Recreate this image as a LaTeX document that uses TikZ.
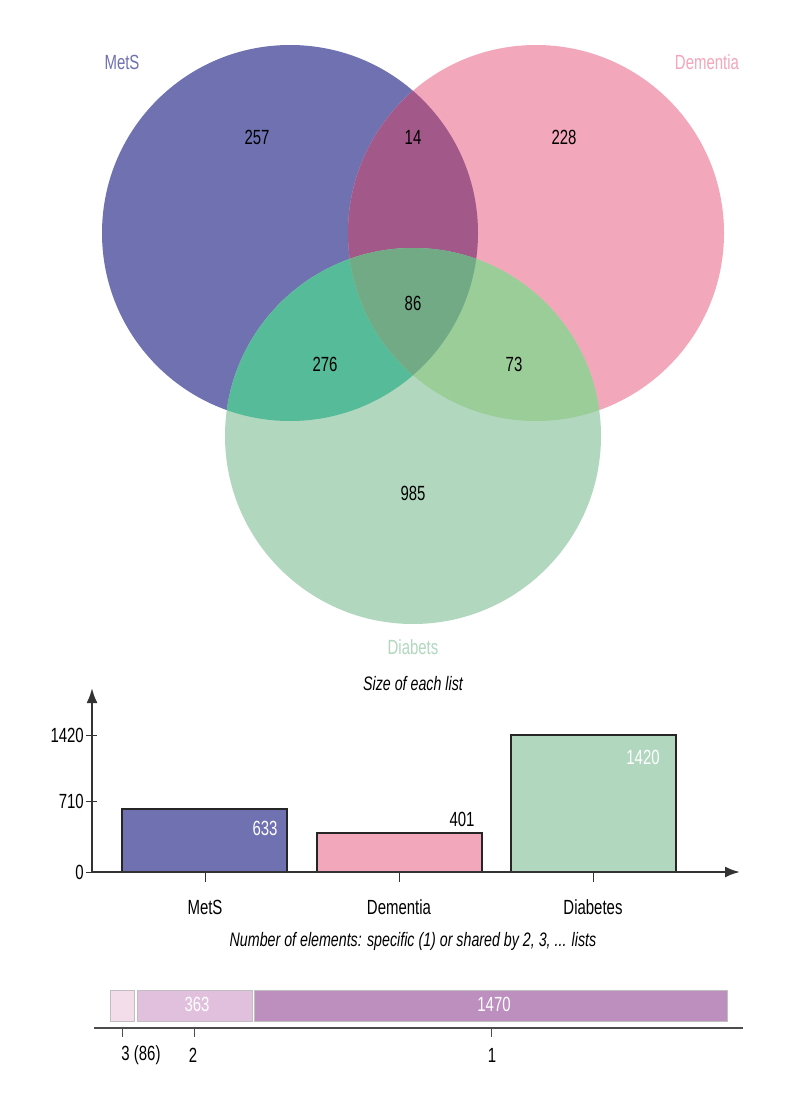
\documentclass[tikz,border=0pt]{standalone}
\usepackage{fontspec}
\setmainfont{Liberation Sans}[FakeStretch=0.73]
\usetikzlibrary{arrows.meta}

\definecolor{metsblue}{HTML}{6F71B1}
\definecolor{dempink}{HTML}{F2A7BA}
\definecolor{diagreen}{HTML}{B1D8BE}
\definecolor{metsdem}{HTML}{A3588A}
\definecolor{metsdia}{HTML}{55BB98}
\definecolor{demdia}{HTML}{9BCD98}
\definecolor{allthree}{HTML}{72AA86}
\definecolor{segone}{HTML}{F3DDEB}
\definecolor{segtwo}{HTML}{E0C0DD}
\definecolor{segthree}{HTML}{BD8FBF}

\begin{document}
\begin{tikzpicture}[x=1pt,y=-1pt,
  num/.style={font=\fontsize{20.5}{22}\selectfont, inner sep=0pt},
  ttl/.style={font=\fontsize{19.5}{22}\selectfont\itshape, inner sep=0pt},
  axisline/.style={line width=2.2pt, draw=black!80, -{Latex[length=15pt,width=11pt]}},
  bar/.style={draw=black!85, line width=1.2pt},
  seg/.style={draw=black!25, line width=1pt}]
\useasboundingbox (0,0) rectangle (800,1100);
\fill[white] (0,0) rectangle (800,1100);

% Venn-Diagramm (drei Kreise)
\coordinate (mets) at (290,233);
\coordinate (dem) at (536,233);
\coordinate (dia) at (413,436);
\fill[metsblue] (mets) circle (188pt);
\fill[dempink] (dem) circle (188pt);
\fill[diagreen] (dia) circle (188pt);
\begin{scope}
  \clip (mets) circle (188pt);
  \fill[metsdem] (dem) circle (188pt);
  \fill[metsdia] (dia) circle (188pt);
\end{scope}
\begin{scope}
  \clip (dem) circle (188pt);
  \fill[demdia] (dia) circle (188pt);
\end{scope}
\begin{scope}
  \clip (mets) circle (188pt);
  \clip (dem) circle (188pt);
  \fill[allthree] (dia) circle (188pt);
\end{scope}

% Namen der Listen
\node[num, text=metsblue] (metsname) at (122,62) {MetS};
\node[num, text=dempink] (demname) at (707,62) {Dementia};
\node[num, text=diagreen] (dianame) at (413,647) {Diabets};

% Anzahl je Bereich
\node[num] (only1) at (257,137) {257};
\node[num] (md) at (413,137) {14};
\node[num] (only2) at (564,137) {228};
\node[num] (mdd) at (413,303) {86};
\node[num] (mdi) at (325,364) {276};
\node[num] (ddi) at (514,364) {73};
\node[num] (only3) at (413,493) {985};

% Balkendiagramm
\node[ttl] (sizetitle) at (413,684) {Size of each list};
\coordinate (origin) at (92,872);
\coordinate (ytop) at (92,688);
\coordinate (xend) at (740,872);
\fill[metsblue] (122,809) rectangle (287,872);
\draw[bar] (122,872) -- (122,809) -- (287,809) -- (287,872);
\fill[dempink] (317,833) rectangle (482,872);
\draw[bar] (317,872) -- (317,833) -- (482,833) -- (482,872);
\fill[diagreen] (511,735) rectangle (676,872);
\draw[bar] (511,872) -- (511,735) -- (676,735) -- (676,872);
\draw[axisline] (origin) -- (ytop);
\draw[axisline] (origin) -- (xend);
\foreach \yy/\val in {735/1420, 801/710, 872/0} {
  \draw[line width=1pt, black!80] (86,\yy) -- (97,\yy);
  \node[num, anchor=east] at (84,\yy) {\val};
}
\foreach \xx/\lbl in {205/MetS, 399/Dementia, 593/Diabetes} {
  \draw[line width=1pt, black!80] (\xx,872) -- (\xx,882);
  \node[num] at (\xx,907) {\lbl};
}
\node[num, text=white] (metsval) at (265,828) {633};
\node[num] (demval) at (462,819) {401};
\node[num, text=white] (diaval) at (643,757) {1420};

% Verteilung nach Anzahl der Listen
\node[ttl] (sharetitle) at (413,941) {Number of elements: specific (1) or shared by 2, 3, ... lists};
\draw[seg, fill=segone] (110,990) rectangle (134,1021);
\draw[seg, fill=segtwo] (137,990) rectangle (252,1021);
\draw[seg, fill=segthree] (254,990) rectangle (727,1021);
\node[num, text=white] (val363) at (197,1004) {363};
\node[num, text=white] (val1470) at (494,1004) {1470};
\coordinate (sleft) at (94,1028);
\coordinate (sright) at (743,1028);
\draw[line width=2pt, black!70] (sleft) -- (sright);
\foreach \xx in {122, 194, 491} {
  \draw[line width=0.8pt, black!70] (\xx,1028) -- (\xx,1037);
}
\node[num] (lbl3) at (141,1055) {3 (86)};
\node[num] (lbl2) at (193,1055) {2};
\node[num] (lbl1) at (492,1055) {1};
\end{tikzpicture}
\end{document}
